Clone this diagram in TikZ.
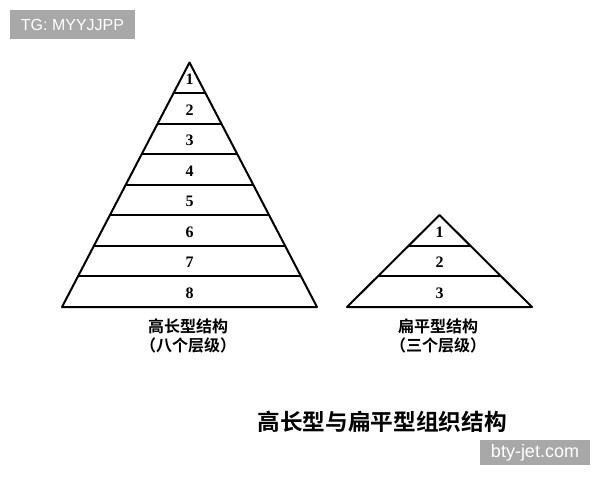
\documentclass[tikz,border=0pt]{standalone}
\usepackage{fontspec}
\setmainfont{Liberation Serif}
\newfontfamily\cjk{Noto Sans CJK SC}[BoldFont={Noto Sans CJK SC Bold}]
\newfontfamily\wmfont{Liberation Sans}
\usetikzlibrary{calc}
\definecolor{wmgray}{RGB}{168,168,168}

\begin{document}
\begin{tikzpicture}[%
x=0.75pt, y=-0.75pt,
line width=1.5pt,
levelnum/.style={font=\fontsize{12}{14}\selectfont\bfseries},
caption/.style={font=\cjk\bfseries\fontsize{12}{14}\selectfont, align=center, inner sep=0pt},
wmbox/.style={fill=wmgray, text=white, font=\wmfont\fontsize{12}{14}\selectfont, inner sep=0pt},
]
\useasboundingbox (0,0) rectangle (600,480);
%% tall pyramid;
\coordinate (tallTop) at (189.5,62.5);
\coordinate (tallL) at (62,307);
\coordinate (tallR) at (317,307);
\coordinate (tallBase) at (189.5,307);
\draw [line join=round] (tallTop) -- (tallL) -- (tallR) -- cycle;
\foreach \i in {1,...,7}
  \draw ($(tallTop)!\i/8!(tallL)$) -- ($(tallTop)!\i/8!(tallR)$);
\foreach \i in {1,...,8}
  \node [levelnum] (tall\i) at ($(tallTop)!{(\i-0.45)/8}!(tallBase)$) {\i};
%% flat pyramid;
\coordinate (flatTop) at (439.5,215);
\coordinate (flatL) at (347,307);
\coordinate (flatR) at (532,307);
\coordinate (flatBase) at (439.5,307);
\draw [line join=round] (flatTop) -- (flatL) -- (flatR) -- cycle;
\foreach \i in {1,2}
  \draw ($(flatTop)!\i/3!(flatL)$) -- ($(flatTop)!\i/3!(flatR)$);
\foreach \i in {1,2,3}
  \node [levelnum] (flat\i) at ($(flatTop)!{(\i-0.45)/3}!(flatBase)$) {\i};
%% captions;
\node [caption] (tallCap) at (188,336) {高长型结构\\（八个层级）};
\node [caption] (flatCap) at (438,336) {扁平型结构\\（三个层级）};
\node [caption, font=\cjk\bfseries\fontsize{17}{20}\selectfont] (title) at (382,422) {高长型与扁平型组织结构};
%% watermarks;
\node [wmbox, minimum width=125*0.75pt, minimum height=29*0.75pt] (tgMark) at (72.5,24.5) {TG: MYYJJPP};
\node [wmbox, font=\wmfont\fontsize{13.5}{15}\selectfont, minimum width=110*0.75pt, minimum height=25*0.75pt] (siteMark) at (535,452.5) {bty-jet.com};
\end{tikzpicture}
\end{document}
